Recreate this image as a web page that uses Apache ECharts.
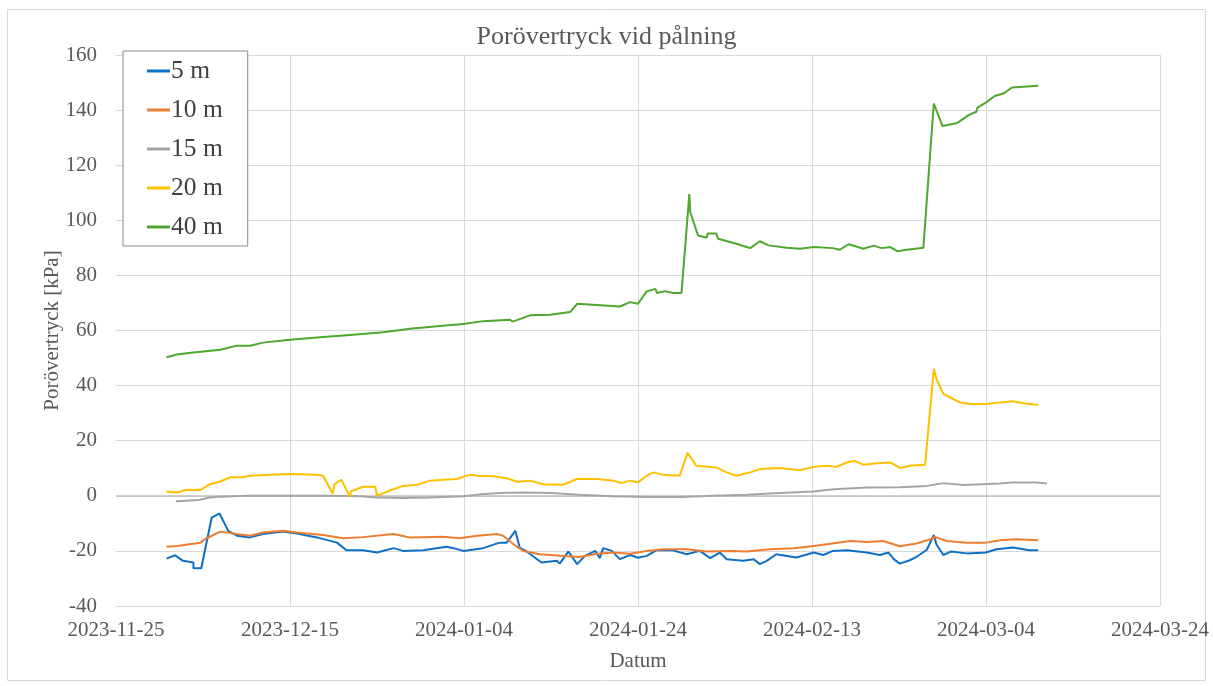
<!DOCTYPE html>
<html lang="sv">
<head>
    <meta charset="UTF-8">
    <title>Porövertryck vid pålning</title>
    <script src="https://cdn.jsdelivr.net/npm/echarts@6/dist/echarts.min.js"></script>
    <style>
        html, body { margin: 0; padding: 0; background: #fff; }
        #main { width: 1213px; height: 686px; }
    </style>
</head>
<body>
<div id="main"></div>
<script type="text/javascript">
    // x = dagar efter 2023-11-25
    var startDate = Date.UTC(2023, 10, 25);
    var seriesNames = ['5 m', '10 m', '15 m', '20 m', '40 m'];
    var colors = ['#0f6fc6', '#ed7d31', '#a5a5a5', '#ffc000', '#4ea72e'];

    var days5 = [5.8, 6.8, 7.7, 8.9, 8.9, 9.8, 11.0, 11.9, 12.9, 13.9, 15.4, 16.9, 19.2, 20.8, 23.1, 25.4, 26.5, 28.4, 30.0, 31.9,
        33.0, 35.3, 38.0, 38.8, 39.9, 42.2, 44.1, 44.9, 45.9, 46.4, 47.2, 48.9, 50.7, 51.0, 52.0, 53.0, 53.9, 55.1, 55.6, 56.0,
        57.0, 57.9, 59.1, 60.0, 61.0, 62.1, 64.0, 65.6, 67.1, 68.3, 69.4, 70.2, 72.1, 73.3, 74.0, 74.8, 75.9, 78.2, 80.2, 81.3,
        82.4, 84.0, 86.3, 87.8, 88.8, 89.4, 90.1, 91.3, 92.0, 93.2, 94.0, 94.3, 95.1, 96.0, 97.8, 100.0, 101.2, 103.1, 105.0, 106.0];
    var vals5 = [-22.8, -21.6, -23.6, -24.2, -26.3, -26.3, -7.9, -6.4, -12.7, -14.5, -15.1, -13.9, -13.0, -13.7, -15.1, -17.0, -19.8, -19.8, -20.6, -19.0,
        -20.0, -19.8, -18.5, -19.0, -20.0, -19.0, -17.0, -17.0, -12.7, -18.8, -20.2, -24.2, -23.6, -24.6, -20.2, -24.8, -21.8, -20.0, -22.6, -19.0,
        -20.0, -23.0, -21.5, -22.5, -21.8, -19.8, -19.8, -21.2, -20.0, -22.6, -20.6, -23.0, -23.6, -23.0, -24.8, -23.6, -21.2, -22.4, -20.6, -21.5,
        -20.0, -19.8, -20.6, -21.5, -20.6, -23.0, -24.6, -23.3, -22.2, -19.6, -14.2, -17.6, -21.5, -20.2, -20.9, -20.6, -19.4, -18.8, -19.8, -19.8];

    var days10 = [5.8, 7.0, 9.7, 10.4, 12.0, 13.9, 15.4, 16.9, 19.2, 20.8, 23.8, 26.1, 28.4, 31.9, 33.8, 37.6, 39.5, 41.5, 43.8, 44.5,
        45.7, 46.8, 48.7, 51.0, 53.3, 55.3, 57.2, 59.1, 61.0, 62.9, 65.6, 67.9, 70.6, 72.5, 75.2, 77.9, 80.2, 81.7, 84.4, 86.3,
        88.2, 90.1, 92.0, 93.6, 94.1, 95.5, 97.8, 100.0, 101.6, 103.5, 106.0];
    var vals10 = [-18.5, -18.2, -17.0, -15.4, -13.0, -13.9, -14.5, -13.3, -12.7, -13.3, -14.2, -15.4, -15.0, -13.9, -15.1, -14.9, -15.4, -14.5, -13.9, -14.5,
        -17.6, -20.0, -21.2, -21.8, -22.2, -21.0, -20.6, -21.0, -20.0, -19.4, -19.4, -20.2, -20.0, -20.2, -19.4, -19.0, -18.2, -17.6, -16.4, -16.8,
        -16.4, -18.3, -17.3, -15.8, -14.9, -16.4, -17.0, -17.0, -16.1, -15.8, -16.1];

    var days15 = [6.9, 8.0, 9.5, 10.8, 12.0, 15.0, 20.0, 25.0, 28.0, 30.0, 33.0, 36.0, 40.0, 42.0, 44.0, 47.0, 50.0, 53.3, 57.0, 61.0,
        65.0, 68.6, 72.5, 76.3, 80.1, 82.5, 86.3, 90.1, 93.2, 95.1, 97.4, 101.6, 103.0, 105.8, 107.0];
    var vals15 = [-2.0, -1.8, -1.5, -0.6, -0.3, 0, 0, 0, -0.2, -0.6, -0.8, -0.6, -0.2, 0.6, 1.0, 1.2, 1.0, 0.4, -0.2, -0.4,
        -0.4, 0, 0.4, 1.0, 1.6, 2.4, 3.0, 3.1, 3.6, 4.6, 3.9, 4.5, 4.8, 4.8, 4.5];

    var days20 = [5.8, 7.0, 8.1, 9.7, 10.8, 12.0, 13.1, 14.6, 15.4, 17.7, 20.0, 23.1, 23.8, 24.9, 25.1, 25.9, 26.9, 27.0, 28.4, 29.8,
        30.0, 31.9, 33.0, 34.6, 36.1, 37.6, 39.2, 39.9, 40.7, 41.5, 43.4, 44.9, 46.1, 47.6, 49.1, 51.4, 53.0, 55.3, 57.2, 58.1,
        59.1, 60.0, 61.0, 61.8, 62.9, 64.8, 65.7, 66.7, 69.0, 70.2, 71.3, 72.1, 72.9, 74.0, 76.3, 78.6, 80.2, 81.7, 82.8, 84.0,
        84.9, 85.9, 87.4, 89.0, 90.1, 91.3, 93.0, 94.0, 94.3, 95.1, 96.0, 97.0, 98.2, 99.9, 100.1, 102.0, 103.1, 104.3, 106.0];
    var vals20 = [1.6, 1.2, 2.2, 2.1, 4.2, 5.2, 6.7, 6.7, 7.3, 7.6, 7.9, 7.6, 7.3, 0.8, 4.2, 5.8, -0.4, 1.6, 3.3, 3.3,
        0, 2.4, 3.6, 4.0, 5.5, 5.8, 6.1, 6.9, 7.6, 7.3, 7.1, 6.4, 5.1, 5.5, 4.2, 4.0, 6.1, 6.1, 5.5, 4.6,
        5.5, 4.8, 7.3, 8.5, 7.6, 7.3, 15.6, 10.9, 10.3, 8.5, 7.3, 7.9, 8.5, 9.7, 10.1, 9.3, 10.5, 10.9, 10.5, 12.1,
        12.7, 11.3, 11.8, 12.1, 10.1, 10.9, 11.3, 46.1, 42.4, 37.0, 35.5, 33.9, 33.3, 33.3, 34.0, 34.0, 34.3, 33.6, 33.0];

    var days40 = [5.8, 7.0, 8.9, 12.0, 13.9, 15.4, 16.9, 20.0, 23.8, 26.9, 30.7, 33.8, 36.9, 39.9, 42.2, 45.3, 45.6, 47.6, 49.9, 52.2,
        53.0, 57.9, 59.1, 60.0, 61.0, 62.0, 62.2, 63.1, 64.0, 65.0, 65.9, 66.0, 66.9, 67.9, 68.0, 69.0, 69.2, 71.3, 72.3, 72.5,
        72.9, 74.0, 75.0, 77.1, 78.6, 80.2, 82.4, 83.2, 84.2, 85.1, 85.9, 87.1, 88.0, 89.0, 89.8, 90.9, 92.8, 94.0, 95.0, 96.6,
        97.0, 98.0, 98.9, 99.0, 100.1, 101.0, 102.0, 103.0, 106.0];
    var vals40 = [50.3, 51.3, 52.0, 53.0, 54.5, 54.5, 55.6, 56.6, 57.6, 58.4, 59.4, 60.6, 61.5, 62.4, 63.4, 63.9, 63.2, 65.5, 65.7, 66.7,
        69.7, 68.7, 70.3, 69.7, 74.2, 75.1, 73.6, 74.3, 73.6, 73.6, 109.5, 103.0, 94.5, 93.7, 95.2, 95.2, 93.3, 91.5, 90.5, 91.2,
        89.9, 92.4, 90.9, 90.0, 89.7, 90.3, 89.9, 89.3, 91.3, 90.5, 89.7, 90.8, 89.9, 90.3, 88.8, 89.3, 90.0, 142.4, 134.2, 135.2,
        136.0, 138.2, 139.4, 140.8, 143.0, 145.1, 146.0, 148.2, 148.8];

    var allDays = [days5, days10, days15, days20, days40];
    var allVals = [vals5, vals10, vals15, vals20, vals40];

    var font = 'Liberation Serif';
    var textColor = '#595959';

    function dayLabel(d) {
        return new Date(startDate + d * 86400000).toISOString().slice(0, 10);
    }

    var series = [];
    for (var k = 0; k < seriesNames.length; k++) {
        var pts = [];
        for (var i = 0; i < allDays[k].length; i++) {
            pts.push([allDays[k][i], allVals[k][i]]);
        }
        var s = {
            name: seriesNames[k],
            type: 'line',
            data: pts,
            showSymbol: false,
            symbol: 'none',
            color: colors[k],
            lineStyle: { width: 2, color: colors[k] },
            z: 3 + k
        };
        if (k === 0) {
            // nollinjen
            s.markLine = {
                silent: true,
                symbol: 'none',
                label: { show: false },
                lineStyle: { color: '#bfbfbf', width: 1.5, type: 'solid' },
                data: [{ yAxis: 0 }],
                z: 1
            };
        }
        series.push(s);
    }

    var myChart = echarts.init(document.getElementById('main'));
    myChart.setOption({
        animation: false,
        backgroundColor: '#fff',
        title: {
            text: 'Porövertryck vid pålning',
            left: 'center',
            top: 19,
            textStyle: { fontFamily: font, fontSize: 26, fontWeight: 'normal', color: textColor }
        },
        graphic: [{
            type: 'rect',
            shape: { x: 7.5, y: 9.5, width: 1198, height: 671 },
            style: { fill: null, stroke: '#d9d9d9', lineWidth: 1 },
            silent: true
        }],
        legend: {
            data: seriesNames,
            orient: 'vertical',
            left: 123,
            top: 51,
            padding: [7, 25, 6, 24],
            itemGap: 13,
            itemWidth: 23,
            itemHeight: 3,
            icon: 'rect',
            backgroundColor: '#fff',
            borderColor: '#8c8c8c',
            borderWidth: 1,
            textStyle: { fontFamily: font, fontSize: 25.5, color: '#404040', padding: [0, 0, 0, -4] }
        },
        grid: { left: 116, right: 53, top: 55, bottom: 80 },
        xAxis: {
            type: 'value',
            min: 0,
            max: 120,
            interval: 20,
            name: 'Datum',
            nameLocation: 'middle',
            nameGap: 45,
            nameMoveOverlap: false,
            nameTextStyle: { fontFamily: font, fontSize: 21, color: textColor },
            axisLine: { show: false },
            axisTick: { show: false },
            axisLabel: {
                margin: 14,
                fontFamily: font,
                fontSize: 21,
                color: textColor,
                formatter: function (v) { return dayLabel(v); }
            },
            splitLine: { show: true, showMinLine: false, lineStyle: { color: '#d9d9d9', width: 1 } }
        },
        yAxis: {
            type: 'value',
            min: -40,
            max: 160,
            interval: 20,
            name: 'Porövertryck [kPa]',
            nameLocation: 'middle',
            nameGap: 53,
            nameMoveOverlap: false,
            nameTextStyle: { fontFamily: font, fontSize: 21, color: textColor },
            axisLine: { show: false },
            axisTick: { show: false },
            axisLabel: { margin: 19, fontFamily: font, fontSize: 21, color: textColor },
            splitLine: { lineStyle: { color: '#d9d9d9', width: 1 } }
        },
        series: series
    });
</script>
</body>
</html>
